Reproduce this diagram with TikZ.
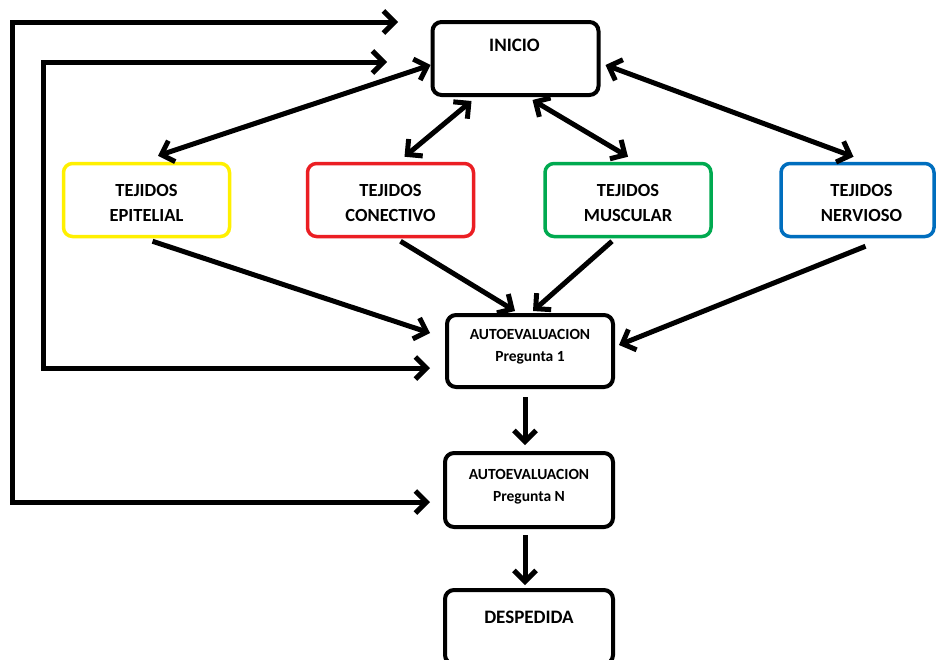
\documentclass[tikz,border=0pt]{standalone}
\usepackage{fontspec}
\setmainfont{Carlito}
\usetikzlibrary{arrows.meta,calc}
\definecolor{cyel}{RGB}{255,240,0}
\definecolor{cred}{RGB}{235,30,35}
\definecolor{cgreen}{RGB}{0,170,80}
\definecolor{cblue}{RGB}{0,110,190}
\begin{document}
\begin{tikzpicture}[x=1pt,y=-1pt,
  box/.style={draw, line width=4pt, rounded corners=9pt, minimum width=166pt, minimum height=73pt, inner sep=0pt},
  cbox/.style={box, draw=#1, line width=3.5pt},
  big/.style={font=\bfseries\fontsize{19}{22}\selectfont},
  mid/.style={font=\bfseries\fontsize{18.5}{25}\selectfont, align=center},
  small/.style={font=\bfseries\fontsize{15.5}{22}\selectfont, align=center},
  tip/.tip={Straight Barb[length=11pt,width=22pt]},
  link/.style={line width=5pt, -tip},
  dlink/.style={line width=5pt, tip-tip},
]
\fill[white] (0,0) rectangle (936,659);
\useasboundingbox (0,0) rectangle (936,659);

\node[box, label={[big, yshift=13.5pt, xshift=-1pt]center:INICIO}] (inicio) at (515.5,58.5) {};
\node[cbox=cyel, label={[mid, yshift=-3pt]center:TEJIDOS\\EPITELIAL}] (epi) at (146.5,200) {};
\node[cbox=cred, label={[mid, yshift=-3pt]center:TEJIDOS\\CONECTIVO}] (con) at (390.5,200) {};
\node[cbox=cgreen, label={[mid, yshift=-3pt]center:TEJIDOS\\MUSCULAR}] (mus) at (628,200) {};
\node[cbox=cblue, minimum width=153pt, label={[mid, yshift=-3pt, xshift=4pt]center:TEJIDOS\\NERVIOSO}] (ner) at (857.5,200) {};
\node[box, minimum height=72pt, label={[small, yshift=4pt]center:AUTOEVALUACION\\Pregunta 1}] (p1) at (530,351) {};
\node[box, minimum width=168pt, minimum height=74pt, label={[small, yshift=3pt]center:AUTOEVALUACION\\Pregunta N}] (pn) at (529,490) {};
\node[box, minimum width=168pt, minimum height=74pt, label={[big, yshift=10pt]center:DESPEDIDA}] (desp) at (529,627) {};

\draw[dlink] ($(inicio.west)+(0,6.5)$) -- ($(epi.north)+(11.5,-6)$);
\draw[dlink] ($(inicio.south)+(-44,4)$) -- ($(con.north)+(14,-5)$);
\draw[dlink] ($(inicio.south)+(17,3)$) -- ($(mus.north)+(0,-5)$);
\draw[dlink] ($(inicio.east)+(5,6.5)$) -- ($(ner.north)+(-4,-5)$);

\draw[link] ($(epi.south)+(6,3)$) -- ($(p1.west)+(-15,-18)$);
\draw[link] ($(con.south)+(10,3)$) -- ($(p1.north)+(-15,-2)$);
\draw[link] ($(mus.south)+(-16,3)$) -- ($(p1.north)+(3,-2)$);
\draw[link] ($(ner.south)+(8,8)$) -- ($(p1.east)+(4,-6)$);

\coordinate (outTL) at (12,22);
\coordinate (outEnd) at (398,22);
\draw[dlink] ($(pn.west)+(-13,12)$) -| (outTL) -- (outEnd);
\coordinate (inTL) at (43,62);
\coordinate (inEnd) at (387,62);
\draw[dlink] ($(p1.west)+(-15,17)$) -| (inTL) -- (inEnd);

\draw[link] ($(p1.south)+(-5,8)$) -- ($(pn.north)+(-4,-6)$);
\draw[link] ($(pn.south)+(-4,6)$) -- ($(desp.north)+(-4,-3)$);
\end{tikzpicture}
\end{document}
